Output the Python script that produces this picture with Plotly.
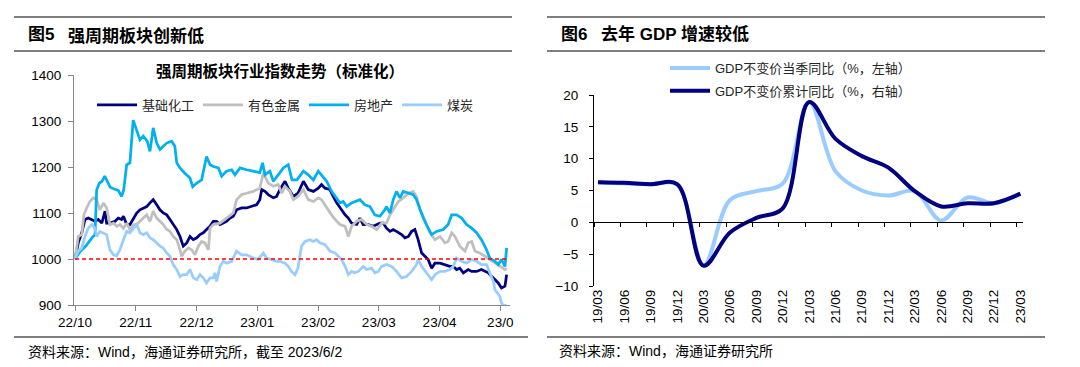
import plotly.graph_objects as go

W, H = 1080, 367
OFF = 8  # the page body adds an 8px margin around the figure


def px(x):
    return (x - OFF) / W


def py(y):
    return 1 - (y - OFF) / H


# ---------------- Left chart data (trading-day index, standardized index) ----------------
month_labels = ["22/10", "22/11", "22/12", "23/01", "23/02", "23/03", "23/04", "23/0"]
month_pos = [0, 22.45, 44.9, 67.35, 89.8, 112.25, 134.7, 157.15]
base_level = 1000

chem_t = [0, 1.2, 2.5, 3.7, 4.9, 6.2, 7.4, 8.6, 9.9, 11.1, 11.7, 12.9, 14.8, 16.0, 17.2, 17.9, 19.1, 20.3,
          21.6, 22.8, 24.0, 25.2, 26.5, 27.7, 28.9, 30.2, 31.4, 32.6, 33.9, 35.1, 36.3, 37.6, 38.8, 40.0,
          41.3, 42.5, 43.7, 45.0, 46.2, 47.4, 48.6, 49.9, 51.1, 52.3, 53.6, 54.8, 56.0, 57.3, 58.5, 59.7,
          61.6, 63.4, 65.3, 67.1, 68.3, 69.0, 70.2, 71.4, 73.3, 74.5, 75.7, 77.6, 78.8, 80.7, 82.4, 84.4,
          86.2, 88.1, 89.9, 91.1, 92.4, 94.2, 95.4, 96.7, 98.5, 99.8, 101.0, 102.2, 104.1, 105.3, 106.5,
          108.4, 110.2, 112.7, 113.9, 115.1, 116.4, 117.6, 118.8, 120.7, 121.9, 123.2, 124.4, 125.6, 126.8,
          128.1, 129.3, 130.5, 131.8, 133.0, 134.9, 136.7, 138.5, 139.8, 141.0, 142.2, 143.5, 145.3, 146.6,
          148.4, 150.2, 152.7, 154.6, 156.4, 157.6, 158.9, 159.5]
chem_v = [1000, 1035, 1057, 1086, 1089, 1086, 1082, 1086, 1078, 1104, 1078, 1078, 1082, 1089, 1086, 1093, 1075,
          1075, 1089, 1100, 1107, 1111, 1114, 1122, 1129, 1118, 1107, 1100, 1096, 1086, 1075, 1064, 1049, 1028,
          1035, 1049, 1042, 1046, 1053, 1057, 1064, 1071, 1082, 1082, 1075, 1078, 1082, 1089, 1093, 1107, 1111,
          1111, 1114, 1118, 1129, 1151, 1147, 1140, 1133, 1136, 1151, 1169, 1154, 1136, 1143, 1169, 1151, 1147,
          1154, 1162, 1154, 1151, 1136, 1122, 1107, 1096, 1089, 1078, 1075, 1089, 1075, 1075, 1071, 1078, 1078,
          1067, 1060, 1064, 1060, 1053, 1046, 1049, 1060, 1064, 1042, 1013, 1006, 999, 980, 991, 991, 988, 984,
          984, 977, 980, 970, 977, 973, 973, 977, 970, 959, 948, 937, 941, 966]

metal_t = [0, 1.2, 2.5, 3.3, 4.3, 5.5, 6.8, 8.0, 9.2, 10.5, 11.7, 12.9, 14.2, 15.4, 16.6, 17.9, 19.1, 20.3, 21.6,
           22.8, 24.0, 25.2, 26.5, 27.7, 28.9, 30.2, 31.4, 32.6, 33.9, 35.1, 36.3, 37.6, 38.8, 39.4, 40.6, 41.9,
           43.1, 44.3, 45.6, 46.8, 48.0, 49.3, 49.9, 51.1, 53.6, 56.0, 58.5, 59.7, 61.6, 63.4, 65.9, 68.3, 69.6,
           71.4, 73.3, 75.1, 76.4, 77.6, 79.4, 80.7, 82.4, 84.4, 86.2, 88.1, 89.9, 91.1, 93.0, 94.8, 96.1, 97.9,
           99.8, 101.0, 102.2, 104.1, 105.9, 107.8, 109.6, 111.5, 113.3, 115.1, 116.4, 117.6, 119.5, 121.3, 123.2,
           125.0, 126.2, 127.5, 128.7, 129.9, 131.2, 133.0, 134.9, 136.7, 137.9, 139.2, 140.4, 142.2, 144.1,
           145.3, 146.6, 147.8, 149.6, 151.5, 153.3, 155.2, 157.0, 158.9, 159.5]
metal_v = [1000, 1049, 1053, 1096, 1111, 1125, 1133, 1129, 1107, 1122, 1111, 1075, 1078, 1071, 1075, 1067, 1078,
           1064, 1075, 1075, 1082, 1089, 1096, 1082, 1104, 1089, 1082, 1075, 1064, 1060, 1049, 1042, 1020, 1006,
           1017, 1024, 1020, 1009, 1028, 1038, 1035, 1020, 1067, 1075, 1078, 1089, 1100, 1129, 1140, 1143, 1147,
           1154, 1187, 1165, 1158, 1162, 1143, 1158, 1147, 1129, 1136, 1151, 1129, 1125, 1133, 1129, 1111, 1096,
           1086, 1075, 1071, 1049, 1071, 1082, 1086, 1075, 1071, 1064, 1078, 1078, 1096, 1107, 1125, 1133, 1143,
           1147, 1136, 1107, 1093, 1075, 1057, 1042, 1049, 1035, 1038, 1057, 1049, 1028, 1017, 1035, 1038, 1017,
           1013, 1006, 999, 991, 984, 977, 980]

estate_t = [0, 2, 4, 6.5, 7.4, 8.0, 9.0, 10.0, 11.0, 12.0, 13.0, 14.5, 16.0, 17.2, 18.0, 19.1, 20.3, 21.5, 22.8,
            24.0, 25.2, 26.7, 27.7, 28.9, 30.2, 31.4, 32.6, 33.9, 35.7, 36.9, 37.6, 38.8, 40.5, 42.5, 43.5, 45.0,
            46.8, 48.6, 49.9, 51.1, 53.0, 54.2, 56.0, 57.9, 59.1, 61.0, 63.4, 65.9, 68.3, 69.3, 70.2, 72.0, 73.3,
            75.1, 77.0, 78.8, 80.2, 82.0, 84.4, 86.2, 88.1, 89.9, 91.1, 93.0, 94.8, 96.1, 97.9, 99.1, 100.4,
            102.2, 105.3, 107.1, 109.0, 110.8, 112.7, 114.5, 115.1, 116.4, 117.6, 118.8, 120.1, 121.3, 123.2,
            125.0, 126.2, 127.5, 128.7, 130.5, 131.8, 133.6, 136.1, 137.9, 139.2, 141.0, 142.9, 144.7, 146.6,
            148.4, 150.2, 152.1, 153.3, 155.2, 156.4, 157.6, 158.9, 159.5]
estate_v = [1000, 1017, 1028, 1048, 1052, 1150, 1165, 1169, 1180, 1168, 1156, 1152, 1149, 1136, 1150, 1205, 1209,
            1302, 1281, 1259, 1267, 1256, 1234, 1285, 1252, 1238, 1245, 1252, 1256, 1245, 1209, 1198, 1187, 1176,
            1157, 1165, 1172, 1223, 1205, 1201, 1198, 1180, 1191, 1194, 1183, 1198, 1194, 1191, 1188, 1209, 1183,
            1191, 1169, 1183, 1198, 1205, 1172, 1172, 1191, 1183, 1172, 1191, 1183, 1169, 1147, 1136, 1122, 1125,
            1114, 1122, 1129, 1118, 1114, 1096, 1093, 1107, 1114, 1100, 1129, 1147, 1133, 1147, 1143, 1140, 1129,
            1107, 1089, 1067, 1053, 1060, 1064, 1075, 1096, 1096, 1089, 1075, 1067, 1057, 1042, 1020, 1002, 995,
            988, 999, 984, 1024]

coal_t = [0, 1.2, 2.5, 3.7, 4.9, 6.2, 7.4, 8.0, 9.2, 10.5, 11.7, 12.9, 14.2, 15.4, 16.6, 17.9, 19.1, 20.3, 21.6,
          22.8, 24.0, 25.2, 26.5, 27.7, 28.9, 30.2, 31.4, 32.6, 33.9, 35.1, 36.3, 37.6, 38.8, 40.0, 41.3, 42.5,
          43.7, 45.0, 46.2, 47.4, 48.6, 49.9, 51.1, 51.7, 52.3, 53.6, 54.8, 56.0, 57.9, 59.7, 61.6, 63.4, 65.9,
          67.7, 69.6, 70.8, 72.7, 74.5, 75.7, 77.6, 78.8, 80.0, 81.3, 82.4, 83.7, 85.0, 86.8, 88.1, 89.3, 90.5,
          92.4, 94.2, 96.1, 97.3, 98.5, 99.8, 101.0, 102.2, 103.4, 104.7, 106.5, 107.8, 109.6, 110.8, 112.1,
          113.3, 115.1, 117.0, 118.8, 120.7, 122.5, 124.4, 126.2, 126.8, 128.1, 129.9, 131.8, 133.0, 134.9,
          136.7, 138.5, 139.8, 141.0, 142.9, 144.7, 146.6, 148.4, 150.2, 152.1, 153.3, 154.6, 155.2, 157.0,
          157.6, 158.5, 159.5]
coal_v = [1000, 1017, 1024, 1049, 1067, 1075, 1067, 1049, 1060, 1057, 1053, 1020, 1009, 1007, 1020, 1042, 1060,
          1057, 1067, 1075, 1057, 1053, 1057, 1046, 1042, 1035, 1028, 1024, 1013, 1006, 988, 977, 962, 966, 966,
          977, 959, 955, 966, 959, 948, 959, 959, 970, 951, 984, 995, 991, 995, 1017, 1009, 1009, 1002, 999,
          1013, 1002, 999, 995, 995, 991, 984, 973, 966, 980, 1028, 1038, 1042, 1038, 1042, 1035, 1031, 1017,
          1013, 1006, 999, 984, 966, 973, 970, 973, 984, 977, 980, 970, 973, 984, 988, 984, 973, 959, 962, 973,
          988, 999, 984, 970, 955, 966, 973, 973, 977, 984, 1002, 995, 991, 999, 995, 988, 988, 970, 951, 933,
          919, 904, 897, 901]

# ---------------- Right chart data (quarterly GDP, %) ----------------
quarters = ["19/03", "19/06", "19/09", "19/12", "20/03", "20/06", "20/09", "20/12", "21/03", "21/06",
            "21/09", "21/12", "22/03", "22/06", "22/09", "22/12", "23/03"]
gdp_quarter = [6.3, 6.1, 6.0, 5.9, -6.8, 3.5, 4.9, 6.1, 18.9, 8.0, 5.0, 4.2, 4.9, 0.3, 3.9, 3.0, 4.5]
gdp_cumulative = [6.3, 6.2, 6.0, 6.0, -6.8, -1.6, 0.7, 2.2, 18.9, 13.1, 10.4, 8.6, 4.9, 2.5, 3.0, 3.0, 4.5]

for a, b in [(chem_t, chem_v), (metal_t, metal_v), (estate_t, estate_v), (coal_t, coal_v)]:
    assert len(a) == len(b), (len(a), len(b))

FONT = "Liberation Sans, Arial, Noto Sans CJK SC, sans-serif"
CJK = "Noto Sans CJK SC, Liberation Sans, sans-serif"

fig = go.Figure()

# each left legend entry gets its own legend box so it can sit where the original puts it
left_series = [
    ("基础化工", chem_t, chem_v, "#000080", "legend", 92),
    ("有色金属", metal_t, metal_v, "#BFBFBF", "legend3", 198),
    ("房地产", estate_t, estate_v, "#00B0F0", "legend4", 304),
    ("煤炭", coal_t, coal_v, "#99CCFF", "legend5", 397),
]
for name, t, v, c, lg, _ in left_series:
    fig.add_trace(go.Scatter(x=t, y=v, name=name, mode="lines",
                             line=dict(color=c, width=2.75),
                             xaxis="x", yaxis="y", legend=lg))

fig.add_trace(go.Scatter(x=[chem_t[0], chem_t[-1]], y=[base_level, base_level], mode="lines",
                         line=dict(color="#FF0000", width=1.3, dash="4px,3px"),
                         showlegend=False, xaxis="x", yaxis="y", hoverinfo="skip"))

qx = list(range(len(quarters)))
fig.add_trace(go.Scatter(x=qx, y=gdp_quarter, name="GDP不变价当季同比（%，左轴）", mode="lines",
                         line=dict(color="#99CCFF", width=4, shape="spline", smoothing=1),
                         xaxis="x2", yaxis="y2", legend="legend2", legendgroup="a"))
fig.add_trace(go.Scatter(x=qx, y=gdp_cumulative, name="GDP不变价累计同比（%，右轴）", mode="lines",
                         line=dict(color="#000080", width=4, shape="spline", smoothing=1),
                         xaxis="x3", yaxis="y2", legend="legend2", legendgroup="b"))

left_dom_x = [px(74), px(510)]
left_dom_y = [py(305), py(75)]
right_dom_x = [px(594), px(1023)]
right_dom_y = [py(286), py(95)]
right_range = [-0.15, 16.1]

tick_font = dict(family=FONT, size=13.5, color="#000000")

legend_common = dict(orientation="h", xanchor="left", yanchor="middle",
                     font=dict(family=CJK, size=13, color="#262626"),
                     bgcolor="rgba(0,0,0,0)", itemwidth=40)
legends = {}
for name, t, v, c, lg, lx in left_series:
    legends[lg] = dict(legend_common, x=px(lx), y=py(105))

fig.update_layout(
    template="none",
    width=W, height=H,
    margin=dict(l=0, r=0, t=0, b=0, pad=0, autoexpand=False),
    paper_bgcolor="white", plot_bgcolor="white",
    font=dict(family=FONT, size=13, color="#000000"),
    xaxis=dict(domain=left_dom_x, range=[-0.37, 160.75], tickmode="array",
               tickvals=month_pos, ticktext=month_labels, ticks="outside", ticklen=5,
               tickcolor="#888888", showline=True, linecolor="#888888", linewidth=1,
               showgrid=False, zeroline=False, tickfont=tick_font, anchor="y", automargin=False),
    yaxis=dict(domain=left_dom_y, range=[900, 1400], dtick=100, ticks="outside", ticklen=5,
               tickcolor="#888888", showline=True, linecolor="#888888", linewidth=1,
               showgrid=False, zeroline=False, tickfont=tick_font, anchor="x",
               ticklabelstandoff=4, automargin=False),
    xaxis2=dict(domain=right_dom_x, range=right_range, tickmode="array", tickvals=qx,
                ticktext=quarters, tickangle=-90, ticks="", showline=False, showgrid=False,
                zeroline=False, tickfont=tick_font, anchor="y2", automargin=False),
    xaxis3=dict(domain=right_dom_x, range=right_range, overlaying="x2", anchor="free",
                position=py(222), side="bottom", tickmode="array",
                tickvals=[q - 0.15 for q in qx], ticks="outside", ticklen=4, tickcolor="#000000",
                showline=True, linecolor="#000000", linewidth=1, showticklabels=False,
                showgrid=False, zeroline=False, automargin=False),
    yaxis2=dict(domain=right_dom_y, range=[-10, 20], dtick=5, ticks="outside", ticklen=4,
                tickcolor="#000000", showline=True, linecolor="#000000", linewidth=1,
                showgrid=False, zeroline=False, tickfont=tick_font, anchor="x2",
                ticklabelstandoff=8, automargin=False),
    legend2=dict(orientation="v", x=px(665), y=py(53), xanchor="left", yanchor="top",
                 font=dict(family=FONT, size=13, color="#262626"), bgcolor="rgba(0,0,0,0)",
                 itemwidth=40, tracegroupgap=3),
    showlegend=True,
    **legends,
)

# header / footer rules
rules = [(14, 512, 17), (14, 512, 51), (14, 528, 337),
         (547, 1045, 17), (547, 1045, 51), (547, 1045, 337)]
for x0, x1, y in rules:
    fig.add_shape(type="line", xref="paper", yref="paper", x0=px(x0), x1=px(x1), y0=py(y), y1=py(y),
                  line=dict(color="#555555", width=1.5))


def note(text, x, y, size, bold=False, anchor="left", family=CJK, color="#000000"):
    fig.add_annotation(text=f"<b>{text}</b>" if bold else text, x=px(x), y=py(y), xref="paper",
                       yref="paper", xanchor=anchor, yanchor="middle", showarrow=False,
                       font=dict(family=family, size=size, color=color))


note("图5", 26, 34, 17, bold=True, family=FONT)
note("强周期板块创新低", 66, 34, 17, bold=True)
note("图6", 559, 34, 17, bold=True, family=FONT)
note("去年 GDP 增速较低", 599, 34, 17, bold=True, family=FONT)
note("强周期板块行业指数走势（标准化）", 280, 70, 15.5, bold=True, anchor="center")
note("资料来源：Wind，海通证券研究所，截至 2023/6/2", 26, 352, 14, family=FONT)
note("资料来源：Wind，海通证券研究所", 557, 351, 14, family=FONT)

fig.write_html("out.html")
